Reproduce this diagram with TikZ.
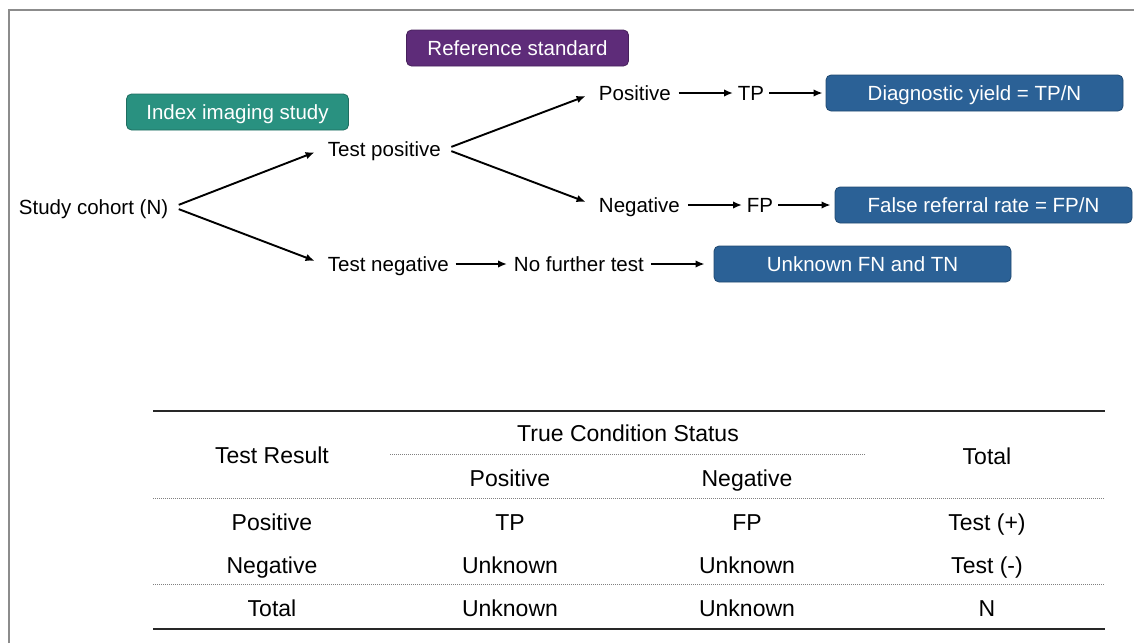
\documentclass[tikz,border=0pt]{standalone}
\usepackage{fontspec}
\setmainfont{Liberation Sans}
\usetikzlibrary{arrows.meta}
\definecolor{refpurple}{RGB}{94,44,121}
\definecolor{idxteal}{RGB}{41,145,128}
\definecolor{resblue}{RGB}{43,97,150}
\definecolor{framegray}{RGB}{140,140,140}
\definecolor{rulegray}{RGB}{40,40,40}
\begin{document}
\begin{tikzpicture}[x=1pt,y=-1pt,line width=1.9pt,>={Latex[length=9pt,width=7.5pt]},
    txt/.style={inner sep=4pt,text height=14.8pt,text depth=0pt,font=\fontsize{20.5}{24}\selectfont},
    tag/.style={txt,rounded corners=5pt,fill=#1,draw=#1!75!black,line width=.8pt,text=white,minimum height=36pt,minimum width=222pt},
    res/.style={tag=resblue,minimum width=297pt},
    cell/.style={inner sep=0pt,text height=16.5pt,text depth=0pt,font=\fontsize{23}{27}\selectfont},
    tdot/.style={line width=1pt,gray,dash pattern=on 1pt off 1pt},
    fork/.style={->,shorten <=6pt,shorten >=9pt}]
    \useasboundingbox(0,0)rectangle(1134,643);
    \draw[framegray,line width=2pt](9,643)--(9,10)--(1134,10);
    % flow part
    \node[txt,anchor=west](coh)at(14,207){Study cohort (N)};
    \node[txt,anchor=west](tpos)at(323,149){Test positive};
    \node[txt,anchor=west](tneg)at(323,264){Test negative};
    \node[txt,anchor=west](nft)at(509,264){No further test};
    \node[txt,anchor=west](rpos)at(594,93){Positive};
    \node[txt,anchor=west](rneg)at(594,205){Negative};
    \node[txt,anchor=west](tp)at(733,93){TP};
    \node[txt,anchor=west](fp)at(742,205){FP};
    \node[tag=idxteal](idx)at(237.5,112){Index imaging study};
    \node[tag=refpurple](ref)at(517.5,48){Reference standard};
    \node[res](dy)at(974.5,93){Diagnostic yield = TP/N};
    \node[res](frr)at(983.5,205){False referral rate = FP/N};
    \node[res](unk)at(862.5,264){Unknown FN and TN};
    \draw[fork](coh.east)--(tpos.west);
    \draw[fork](coh.east)--(tneg.west);
    \draw[fork](tpos.east)--(rpos.west);
    \draw[fork](tpos.east)--(rneg.west);
    \draw[->,shorten <=3pt](rpos.east)--(tp.west);
    \draw[->,shorten >=3pt](tp.east)--(dy.west);
    \draw[->,shorten <=3pt](rneg.east)--(fp.west);
    \draw[->,shorten >=4pt](fp.east)--(frr.west);
    \draw[->,shorten <=2pt,shorten >=2pt](tneg.east)--(nft.west);
    \draw[->,shorten <=2pt,shorten >=9pt](nft.east)--(unk.west);
    % table
    \draw[rulegray,line width=2.4pt](153,411)--(1105,411)(153,629)--(1105,629);
    \draw[tdot](390,454)--(866,454)(153,498)--(1105,498)(153,584)--(1105,584);
    \foreach \n/\x/\y/\t in{hres/272/455/Test Result,hcond/628/433/True Condition Status,hpos/510/478/Positive,hneg/747/478/Negative,htot/987/456/Total,
        c11/272/522/Positive,c12/510/522/TP,c13/747/522/FP,c14/987/522/Test (+),
        c21/272/565/Negative,c22/510/565/Unknown,c23/747/565/Unknown,c24/987/565/Test (-),
        c31/272/608/Total,c32/510/608/Unknown,c33/747/608/Unknown,c34/987/608/N}
        \node[cell](\n)at(\x,\y){\t};
\end{tikzpicture}
\end{document}
